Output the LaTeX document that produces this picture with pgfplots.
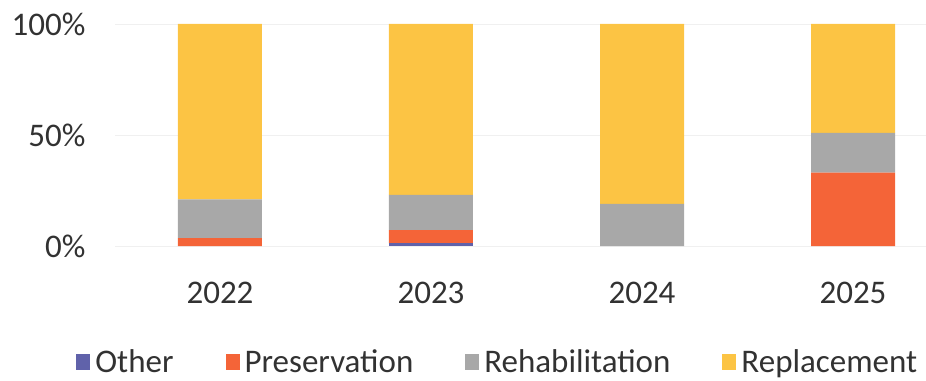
\documentclass[border=0pt]{standalone}
\usepackage{fontspec}
\setmainfont{Carlito}
\usepackage{pgfplots}
\usepackage{pgfplotstable}
\pgfplotsset{compat=1.18}
\definecolor{cother}{RGB}{96,98,170}
\definecolor{cpres}{RGB}{244,100,56}
\definecolor{crehab}{RGB}{168,168,168}
\definecolor{crepl}{RGB}{252,196,68}
\definecolor{ctext}{RGB}{50,50,50}
\pgfplotstableread{
x other pres rehab repl
0 0 3.5 17.5 79
1 1.2 6 15.8 77
2 0 0 19 81
3 0 33 18 49
}\datatable
\begin{document}
\begin{tikzpicture}
\path[use as bounding box] (-115bp,-135bp) rectangle (811bp,246bp);
\begin{axis}[
  at={(0,0)}, anchor=south west,
  scale only axis, width=811bp, height=222bp,
  ybar stacked, bar width=84bp,
  xmin=-0.4976, xmax=3.346, ymin=0, ymax=100,
  axis line style={draw=none},
  tick style={draw=none},
  xtick={0,1,2,3}, xticklabels={2022,2023,2024,2025},
  ytick={0,50,100}, yticklabels={0\%,50\%,100\%},
  ymajorgrids, grid style={color=black!6, line width=0.8bp},
  ticklabel style={font=\fontsize{33bp}{38bp}\selectfont, text=ctext},
  xticklabel style={yshift=-33bp},
  yticklabel style={xshift=-26bp},
  legend columns=4,
  legend style={draw=none, fill=none, at={(0.472,-0.523)}, anchor=center,
    font=\fontsize{33bp}{38bp}\selectfont, text=ctext,
    /tikz/every odd column/.append style={column sep=3bp},
    /tikz/every even column/.append style={column sep=50bp}},
  legend image code/.code={\fill[#1] (0bp,-8bp) rectangle (14bp,8bp);},
  clip=false,
]
\addplot[fill=cother, draw=none] table[x=x, y=other] {\datatable};
\addplot[fill=cpres, draw=none] table[x=x, y=pres] {\datatable};
\addplot[fill=crehab, draw=none] table[x=x, y=rehab] {\datatable};
\addplot[fill=crepl, draw=none] table[x=x, y=repl] {\datatable};
\legend{Other, Preservation, Rehabilitation, Replacement}
\end{axis}
\end{tikzpicture}
\end{document}
